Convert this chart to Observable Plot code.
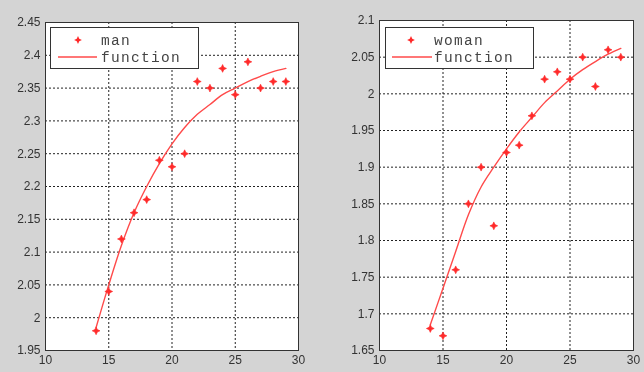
<!DOCTYPE html>
<html><head><meta charset="utf-8">
<script src="https://cdn.jsdelivr.net/npm/d3@7"></script>
<script src="https://cdn.jsdelivr.net/npm/@observablehq/plot@0.6"></script>
<style>
html,body{margin:0;padding:0;background:#d4d4d4;}
#wrap{position:relative;width:644px;height:372px;background:#d4d4d4;overflow:hidden;filter:blur(0.35px);}
.panel{position:absolute;top:0;}
.leg{position:absolute;top:0;left:0;}
</style></head>
<body><div id="wrap"></div>
<script>
// ---- data ----
const ages = [14,15,16,17,18,19,20,21,22,23,24,25,26,27,28,29];
const manValues = [1.98,2.04,2.12,2.16,2.18,2.24,2.23,2.25,2.36,2.35,2.38,2.34,2.39,2.35,2.36,2.36];
const manFit = [1.985,2.05,2.11,2.16,2.2,2.235,2.265,2.29,2.31,2.325,2.34,2.35,2.36,2.368,2.375,2.38];
const womanValues = [1.68,1.67,1.76,1.85,1.90,1.82,1.92,1.93,1.97,2.02,2.03,2.02,2.05,2.01,2.06,2.05];
const womanFit = [1.685,1.735,1.785,1.835,1.873,1.9,1.925,1.948,1.968,1.988,2.004,2.02,2.033,2.044,2.054,2.062];
const xTicks = [10,15,20,25,30];
const manYTicks = [1.95,2,2.05,2.1,2.15,2.2,2.25,2.3,2.35,2.4,2.45];
const womanYTicks = [1.65,1.7,1.75,1.8,1.85,1.9,1.95,2,2.05,2.1];
const labels = ["man","woman","function"];

const RED = "#ff2a2a";
const LINE = "#ff4a4a";
const star4 = {draw(ctx, size){
  const r = Math.sqrt(size/Math.PI), R = r*1.3, k = r*0.42;
  ctx.moveTo(0,-R); ctx.lineTo(k,-k); ctx.lineTo(R,0); ctx.lineTo(k,k);
  ctx.lineTo(0,R); ctx.lineTo(-k,k); ctx.lineTo(-R,0); ctx.lineTo(-k,-k); ctx.closePath();
}};

function panel(values, fit, yDomain, yTicks, m){
  const pts = ages.map((a,i)=>({x:a,y:values[i]}));
  const fn = ages.map((a,i)=>({x:a,y:fit[i]}));
  return Plot.plot({
    width: 322, height: 372,
    marginLeft: m.left, marginRight: m.right, marginTop: m.top, marginBottom: m.bottom,
    style: {background: "transparent", fontFamily: "'Liberation Sans', Arial, sans-serif", fontSize: "12px", color: "#333", overflow: "visible"},
    x: {domain: [10,30], ticks: xTicks, label: null},
    y: {domain: yDomain, ticks: yTicks, label: null},
    marks: [
      Plot.rect([0], {x1: 10, x2: 30, y1: yDomain[0], y2: yDomain[1], fill: "#fff"}),
      Plot.gridX(xTicks.slice(1,-1), {stroke: "#222", strokeOpacity: 1, strokeDasharray: "2,2"}),
      Plot.gridY(yTicks.slice(1,-1), {stroke: "#222", strokeOpacity: 1, strokeDasharray: "2,2"}),
      Plot.axisX(xTicks, {tickSize: 0, tickPadding: 5, tickFormat: d => String(d), fill: "#333", fontSize: 12}),
      Plot.axisY(yTicks, {tickSize: 0, tickPadding: 5, tickFormat: d => String(+d.toFixed(2)), fill: "#333", fontSize: 12}),
      Plot.line(fn, {x: "x", y: "y", stroke: LINE, strokeWidth: 1.4, curve: "catmull-rom"}),
      Plot.dot(pts, {x: "x", y: "y", symbol: star4, r: 3, fill: RED, stroke: RED, strokeWidth: 0.6}),
      Plot.frame({stroke: "#333"})
    ]
  });
}

const wrap = document.getElementById("wrap");
const p1 = panel(manValues, manFit, [1.95,2.45], manYTicks, {left:45,right:24,top:22,bottom:22});
p1.classList.add("panel"); p1.style.left = "0px";
const p2 = panel(womanValues, womanFit, [1.65,2.1], womanYTicks, {left:57,right:11,top:20,bottom:22});
p2.classList.add("panel"); p2.style.left = "322px";
wrap.appendChild(p1); wrap.appendChild(p2);

// legends
const leg = d3.select(wrap).append("svg").attr("class","leg").attr("width",644).attr("height",372);
const symPath = d3.symbol().type(star4).size(Math.PI*9)();
function legend(x, y, w, h, name, symX, lineX1, lineX2, textX){
  const g = leg.append("g");
  g.append("rect").attr("x",x+0.5).attr("y",y+0.5).attr("width",w).attr("height",h)
    .attr("fill","#fff").attr("stroke","#333");
  g.append("path").attr("d",symPath).attr("transform",`translate(${symX},${y+13})`).attr("fill",RED);
  g.append("line").attr("x1",lineX1).attr("x2",lineX2).attr("y1",y+30).attr("y2",y+30)
    .attr("stroke",LINE).attr("stroke-width",1.6);
  const txt = (ty, s) => g.append("text").attr("x",textX).attr("y",ty).attr("dy","0.35em").text(s)
    .attr("font-family","'Liberation Mono', monospace").attr("font-size",14.5)
    .attr("letter-spacing","1.3px").attr("fill","#444");
  txt(y+13, name);
  txt(y+30, labels[2]);
}
legend(50, 27, 148, 41, labels[0], 78, 58, 97, 101);
legend(385, 27, 148, 41, labels[1], 411, 392, 432, 434);
</script></body></html>
